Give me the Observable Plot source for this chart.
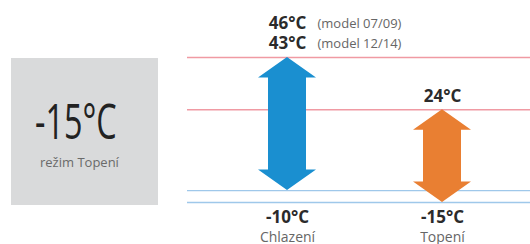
<!DOCTYPE html>
<html>
<head>
<meta charset="utf-8">
<script src="https://cdn.jsdelivr.net/npm/d3@7"></script>
<script src="https://cdn.jsdelivr.net/npm/@observablehq/plot@0.6"></script>
<style>
  body { margin: 0; background: #fff; font-family: "Open Sans", sans-serif; }
  #wrap { position: relative; width: 530px; height: 244px; overflow: hidden; }
  #box { position: absolute; left: 11px; top: 58px; width: 147px; height: 147px; background: #d9dadb; }
  #big { position: absolute; left: 35px; top: 96px; font-size: 49px; font-weight: 400; line-height: 1;
         color: #222; white-space: nowrap; transform: scaleX(0.66); transform-origin: left top; }
  #sub { position: absolute; left: 40px; top: 153px; font-size: 13px; line-height: 18px; color: #6a6a6a; white-space: nowrap; }
  #chart { position: absolute; left: 0; top: 0; }
</style>
</head>
<body>
<div id="wrap">
  <div id="box"></div>
  <div id="big"></div>
  <div id="sub"></div>
  <div id="chart"></div>
</div>
<script>
// ---- data ----
const categories = ["Chlazení", "Topení"];
const maxTemp = [46, 24];
const minTemp = [-10, -15];
const altMaxTemp = [43, null];               // second max (model 12/14) for Chlazení
const modelLabels = ["(model 07/09)", "(model 12/14)"];
const arrowColors = ["#1a8fd0", "#e97f32"];
const modeTemp = -15;
const modeLabel = "režim Topení";

const fmt = v => `${v}°C`;

document.getElementById("big").textContent = fmt(modeTemp);
document.getElementById("sub").textContent = modeLabel;

const rows = categories.map((c, i) => ({cat: c, max: maxTemp[i], min: minTemp[i], alt: altMaxTemp[i], color: arrowColors[i]}));
const multi = rows.filter(r => r.alt != null);
const topLines = multi.length ? [
  {cat: multi[0].cat, temp: multi[0].max, model: modelLabels[0]},
  {cat: multi[0].cat, temp: multi[0].alt, model: modelLabels[1]}
] : [];
const topSingle = rows.filter(r => r.alt == null);

function arrows(index, scales) {
  const {x, y} = scales;
  const g = d3.create("svg:g");
  const hw = 29, sw = 19, hh = 20.5;
  for (const r of rows) {
    const cx = x(r.cat), yt = y(r.max), yb = y(r.min);
    const pts = [[cx, yt], [cx + hw, yt + hh], [cx + sw, yt + hh], [cx + sw, yb - hh], [cx + hw, yb - hh],
                 [cx, yb], [cx - hw, yb - hh], [cx - sw, yb - hh], [cx - sw, yt + hh], [cx - hw, yt + hh]];
    g.append("path").attr("d", "M" + pts.map(p => p.join(",")).join("L") + "Z").attr("fill", r.color);
  }
  return g.node();
}

const boldStyle = {fontSize: 17, fontWeight: 700, fill: "#2b2b2b", lineAnchor: "middle"};
const lineMarks = topLines.flatMap((d, i) => [
  Plot.text([d], {x: "cat", text: v => fmt(v.temp), frameAnchor: "top", dy: -34 + i * 20, ...boldStyle}),
  Plot.text([d], {x: "cat", text: "model", frameAnchor: "top", dy: -34 + i * 20, dx: 30, textAnchor: "start",
    lineAnchor: "middle", fontSize: 13, fill: "#666"})
]);

const chart = Plot.plot({
  width: 530,
  height: 244,
  marginLeft: 187,
  marginRight: 0,
  marginTop: 57,
  marginBottom: 42,
  style: {fontFamily: "'Open Sans', sans-serif", background: "transparent"},
  x: {type: "point", domain: categories, padding: 0.6, align: 0.53, axis: null},
  y: {type: "linear", domain: [-15, 46], axis: null},
  marks: [
    Plot.ruleY(maxTemp, {stroke: "#f09aa3", strokeWidth: 1.4}),
    Plot.ruleY(minTemp, {stroke: "#9fc8ea", strokeWidth: 1.4}),
    arrows,
    ...lineMarks,
    Plot.text(topSingle, {x: "cat", y: "max", text: d => fmt(d.max), dy: -13, ...boldStyle}),
    Plot.text(rows, {x: "cat", text: d => fmt(d.min), frameAnchor: "bottom", dy: 15, ...boldStyle}),
    Plot.text(rows, {x: "cat", text: "cat", frameAnchor: "bottom", dy: 35, lineAnchor: "middle",
      fontSize: 14, fill: "#666"})
  ]
});
document.getElementById("chart").appendChild(chart);
</script>
</body>
</html>
